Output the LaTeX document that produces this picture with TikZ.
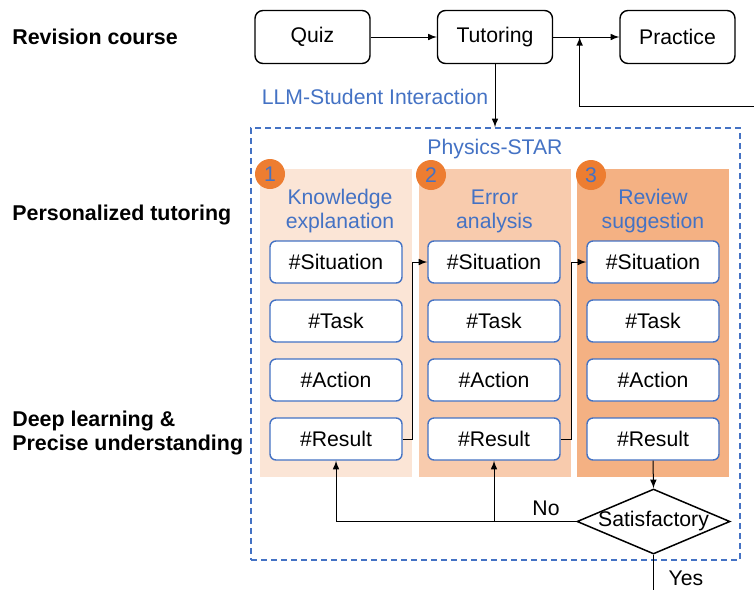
\documentclass[tikz,border=0pt]{standalone}
\usepackage{fontspec}
\setmainfont{Liberation Sans}
\usetikzlibrary{arrows,shapes.geometric,positioning,calc}
\definecolor{starblue}{HTML}{4472C4}
\definecolor{starorange}{HTML}{ED7D31}
\definecolor{panelA}{HTML}{FBE5D6}
\definecolor{panelB}{HTML}{F8CBAD}
\definecolor{panelC}{HTML}{F4B183}

\begin{document}
\begin{tikzpicture}[x=0.5pt,y=-0.5pt,font=\fontsize{10.6}{12}\selectfont,
		course/.style={draw,rounded corners=4pt,line width=0.7pt,minimum width=57.5pt,minimum height=26.5pt},
		panel/.style={minimum width=76pt,minimum height=154pt,inner sep=0pt},
		part/.style={draw=starblue,fill=white,rounded corners=3pt,line width=0.7pt,minimum width=66pt,minimum height=21pt},
		title/.style={text=starblue,align=center,inner sep=0pt},
		num/.style={circle,fill=starorange,text=starblue,minimum size=15pt,inner sep=0pt},
		level/.style={font=\fontsize{10.7}{12}\selectfont\bfseries,align=left,anchor=west,inner sep=0pt},
		flow/.style={-latex,line width=0.5pt}]
	\useasboundingbox (0,0) rectangle (754,590);
	\node[level] (rev) at (12,37) {Revision course};
	\node[level] (pers) at (12,215) {Personalized tutoring};
	\node[level] (deep) at (12,433) {Deep learning \&\\Precise understanding};
	\node[course] (quiz) at (312.5,37) {Quiz};
	\node[course] (tut) at (495,37) {Tutoring};
	\node[course] (prac) at (677.5,37) {Practice};
	\node[title] (llm) at (375,97) {LLM-Student Interaction};
	\node[draw=starblue,dash pattern=on 3pt off 2pt,line width=0.75pt,minimum width=244.5pt,minimum height=216pt] (star) at (495.5,344) {};
	\node[title] (phys) at (495,149) {Physics-STAR};
	\node[panel,fill=panelA] (p1) at (336,323) {};
	\node[panel,fill=panelB] (p2) at (494.5,323) {};
	\node[panel,fill=panelC] (p3) at (653,323) {};
	\node[num] (n1) at (270,174) {1};
	\node[num] (n2) at (431,175) {2};
	\node[num] (n3) at (591,175) {3};
	\node[title] (t1) at (340,211) {Knowledge\\explanation};
	\node[title] (t2) at (494.5,211) {Error\\analysis};
	\node[title] (t3) at (653,211) {Review\\suggestion};
	\node[part] (s1) at (336,262) {\#Situation};
	\node[part] (k1) at (336,321) {\#Task};
	\node[part] (a1) at (336,380) {\#Action};
	\node[part] (r1) at (336,439) {\#Result};
	\node[part] (s2) at (494,262) {\#Situation};
	\node[part] (k2) at (494,321) {\#Task};
	\node[part] (a2) at (494,380) {\#Action};
	\node[part] (r2) at (494,439) {\#Result};
	\node[part] (s3) at (653,262) {\#Situation};
	\node[part] (k3) at (653,321) {\#Task};
	\node[part] (a3) at (653,380) {\#Action};
	\node[part] (r3) at (653,439) {\#Result};
	\node[draw,diamond,line width=0.75pt,minimum width=76.5pt,minimum height=32.5pt,inner sep=0pt] (sat) at (653.5,521.5) {};
	\node (sattext) at (sat) {Satisfactory};
	\node (no) at (546,508) {No};
	\node (yes) at (686,578) {Yes};
	\coordinate (back) at (754,106);
	\coordinate (out) at (653.5,590);
	\path[flow]
	(quiz) edge (tut)
	(tut) edge (prac)
	(tut) edge (tut.south |- star.north)
	(r3.south) edge (sat.north)
	(r2.south |- sat.west) edge (r2.south);
	\draw[flow] (back) -| ($(tut.east)!0.4!(prac.west)$);
	\draw[flow] (r1.east) -- ++(10,0) |- (s2.west);
	\draw[flow] (r2.east) -- ++(11,0) |- (s3.west);
	\draw[flow] (sat.west) -| (r1.south);
	\draw[line width=0.5pt] (sat.south) -- (out);
\end{tikzpicture}
\end{document}
